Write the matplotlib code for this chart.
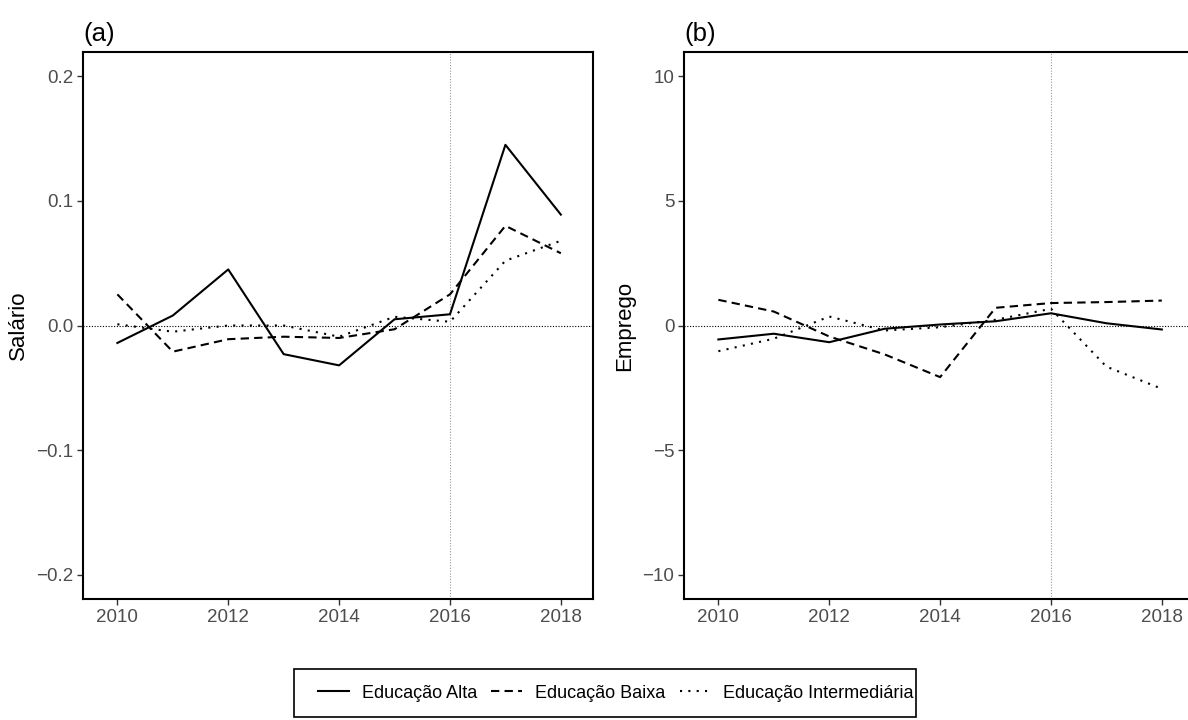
import matplotlib
matplotlib.use('Agg')
import matplotlib.pyplot as plt
from matplotlib.lines import Line2D
from matplotlib.patches import Rectangle

plt.rcParams['font.family'] = ['Liberation Sans', 'DejaVu Sans']

years = [2010, 2011, 2012, 2013, 2014, 2015, 2016, 2017, 2018]

# (a) Salario
sal_alta = [-0.014, 0.008, 0.045, -0.023, -0.032, 0.005, 0.009, 0.145, 0.089]
sal_baixa = [0.025, -0.021, -0.011, -0.009, -0.010, -0.003, 0.025, 0.080, 0.058]
sal_inter = [0.001, -0.005, 0.000, 0.000, -0.009, 0.007, 0.003, 0.052, 0.068]

# (b) Emprego
emp_alta = [-0.56, -0.33, -0.67, -0.13, 0.04, 0.17, 0.49, 0.09, -0.16]
emp_baixa = [1.03, 0.56, -0.44, -1.16, -2.07, 0.71, 0.90, 0.94, 1.00]
emp_inter = [-1.03, -0.53, 0.36, -0.20, -0.07, 0.23, 0.67, -1.65, -2.54]

labels = ['Educação Alta', 'Educação Baixa', 'Educação Intermediária']
styles = ['-', (0, (4, 2.5)), (0, (1, 3))]

W, H = 1188, 720
fig = plt.figure(figsize=(W / 100, H / 100), dpi=100)

def make_ax(x0, x1, title, ylabel, data, ylim, yticks):
    ax = fig.add_axes([x0 / W, 1 - 599 / H, (x1 - x0) / W, (599 - 52) / H])
    ax.axhline(0, color='black', linestyle=(0, (1, 1.5)), linewidth=0.8, zorder=1)
    ax.axvline(2016, color='#999999', linestyle=(0, (1, 1.5)), linewidth=0.8, zorder=1)
    for vals, ls in zip(data, styles):
        ax.plot(years, vals, color='black', linestyle=ls, linewidth=1.5, zorder=3)
    ax.set_xlim(2009.38, 2018.58)
    ax.set_ylim(*ylim)
    ax.set_yticks(yticks)
    ax.set_xticks([2010, 2012, 2014, 2016, 2018])
    ax.tick_params(labelsize=13.5, labelcolor='#4D4D4D', color='#333333', length=4, width=1, pad=3)
    for s in ax.spines.values():
        s.set_linewidth(1.5)
    ax.set_ylabel(ylabel, fontsize=16, labelpad=5)
    ax.set_title(title, loc='left', fontsize=18.5, pad=8)
    return ax

ax1 = make_ax(83, 593, '(a)', 'Salário', [sal_alta, sal_baixa, sal_inter],
              (-0.2195, 0.2195), [-0.2, -0.1, 0.0, 0.1, 0.2])
ax1.set_yticklabels(['\u22120.2', '\u22120.1', '0.0', '0.1', '0.2'])

ax2 = make_ax(684, 1194, '(b)', 'Emprego', [emp_alta, emp_baixa, emp_inter],
              (-10.97, 10.97), [-10, -5, 0, 5, 10])
ax2.set_yticklabels(['\u221210', '\u22125', '0', '5', '10'])

# legend frame drawn by hand, legend itself without frame
fig.patches.append(Rectangle((294 / W, 1 - 717 / H), (916 - 294) / W, (717 - 669) / H,
                             transform=fig.transFigure, fill=False,
                             edgecolor='black', linewidth=1.2))
handles = [Line2D([], [], color='black', linestyle=ls, linewidth=1.5) for ls in styles]
leg = fig.legend(handles, labels, loc='center left', bbox_to_anchor=(318 / W, 1 - 693 / H),
                 ncol=3, fontsize=13, frameon=False,
                 handlelength=1.7, columnspacing=0.8, handletextpad=0.72,
                 borderpad=0, borderaxespad=0)

fig.savefig('out.png', dpi=100)
